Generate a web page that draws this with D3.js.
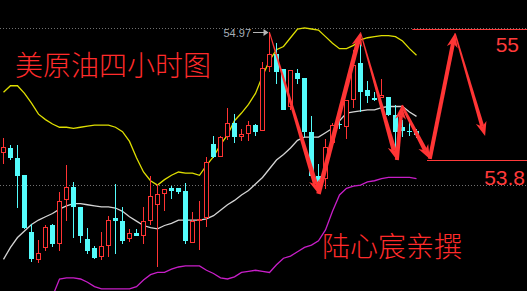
<!DOCTYPE html>
<html lang="zh">
<head>
<meta charset="UTF-8">
<title>美原油四小时图</title>
<script src="https://d3js.org/d3.v7.min.js"></script>
<style>
    html, body { margin: 0; padding: 0; background: #000; }
    svg { display: block; background: #000; }
    .cn { font-family: "Noto Sans CJK SC", sans-serif; fill: #ff2b2b; font-size: 28px; font-weight: 300; }
    .num { font-family: "Liberation Sans", Arial, sans-serif; }
</style>
</head>
<body>
<svg id="chart" width="527" height="291"></svg>
<script>
    // 4-hour candles (price)
    var open  = [53.86,53.91,53.82,53.66,53.14,52.88,52.99,53.20,53.03,53.43,
                 53.55,53.37,53.08,52.99,52.91,53.01,53.27,53.24,53.08,53.13,
                 53.10,53.24,53.39,53.49,53.54,53.54,53.52,53.04,53.24,53.27,
                 53.95,53.83,54.01,54.14,54.01,54.04,54.12,54.07,54.65,54.77,
                 54.63,54.29,54.60,54.55,54.06,53.65,53.63,53.96,54.13,54.10,
                 54.35,54.69,54.44,54.37,54.37,54.38,54.21,54.10,54.07,54.07];
    var high  = [54.00,53.94,53.94,53.66,53.21,53.07,53.20,53.21,53.51,53.75,
                 53.60,53.37,53.18,53.01,53.14,53.29,53.58,53.37,53.17,53.17,
                 53.37,53.65,53.58,53.53,53.56,53.54,53.59,53.32,53.42,53.83,
                 54.02,54.02,54.28,54.22,54.08,54.16,54.13,54.70,54.97,54.87,
                 54.63,54.62,54.63,54.55,54.20,53.76,53.99,54.14,54.17,54.35,
                 54.81,54.95,54.52,54.42,54.54,54.38,54.30,54.17,54.16,54.08];
    var low   = [53.76,53.80,53.36,53.17,52.87,52.86,52.97,53.00,52.97,53.24,
                 53.09,53.04,52.94,52.89,52.88,52.91,52.94,53.03,53.05,53.10,
                 53.03,53.20,52.82,53.33,53.44,53.49,53.03,53.04,52.98,53.19,
                 53.82,53.83,53.98,53.96,53.97,53.97,54.02,54.07,54.61,54.50,
                 54.26,54.26,54.50,54.01,53.65,53.53,53.53,53.96,54.08,53.99,
                 54.28,54.24,54.32,54.34,54.37,54.20,53.86,54.01,54.02,54.00];
    var close = [53.92,53.82,53.65,53.18,52.89,52.95,53.19,53.03,53.42,53.55,
                 53.37,53.10,52.97,52.90,53.01,53.25,53.24,53.06,53.13,53.10,
                 53.24,53.47,53.49,53.53,53.52,53.51,53.06,53.24,53.26,53.78,
                 53.83,54.01,54.14,54.01,54.04,54.12,54.06,54.64,54.77,54.61,
                 54.26,54.62,54.54,54.06,53.65,53.60,53.92,54.12,54.12,54.35,
                 54.67,54.42,54.39,54.35,54.40,54.21,54.06,54.07,54.06,54.03];

    // Bollinger bands
    var upper = [54.42,54.48,54.48,54.41,54.32,54.22,54.17,54.13,54.10,54.10,
                 54.09,54.10,54.11,54.12,54.12,54.12,54.10,54.06,53.97,53.82,
                 53.69,53.61,53.57,53.62,53.66,53.69,53.68,53.68,53.66,53.75,
                 53.83,53.94,54.03,54.16,54.23,54.31,54.41,54.57,54.71,54.81,
                 54.84,54.92,55.00,55.01,55.00,54.99,54.93,54.87,54.82,54.82,
                 54.85,54.90,54.92,54.93,54.94,54.94,54.93,54.89,54.82,54.76];
    var mid   = [52.89,53.00,53.09,53.15,53.21,53.25,53.28,53.31,53.35,53.38,
                 53.40,53.40,53.39,53.38,53.37,53.37,53.36,53.33,53.28,53.24,
                 53.20,53.18,53.17,53.20,53.22,53.25,53.25,53.25,53.25,53.26,
                 53.29,53.34,53.39,53.43,53.48,53.52,53.58,53.64,53.72,53.80,
                 53.85,53.91,53.98,54.01,54.01,54.01,54.05,54.09,54.16,54.23,
                 54.24,54.25,54.26,54.26,54.28,54.29,54.29,54.29,54.24,54.20];
    var lower = [null,null,null,null,null,null,null,52.55,52.71,52.72,
                 52.72,52.71,52.68,52.64,52.62,52.62,52.62,52.62,52.62,52.64,
                 52.70,52.75,52.77,52.77,52.80,52.82,52.83,52.83,52.83,52.79,
                 52.76,52.72,52.71,52.73,52.77,52.78,52.79,52.78,52.77,52.84,
                 52.90,52.92,52.96,53.00,53.02,53.06,53.16,53.33,53.48,53.54,
                 53.56,53.57,53.60,53.61,53.63,53.64,53.64,53.64,53.64,53.63];

    // hand-drawn forecast path: [candle index, price]
    var arrowPath   = [[38,54.97],[45,53.49],[51,54.97],[56.2,53.80],[56.9,54.30],
                       [60.9,53.81],[64.5,54.96],[68.8,54.02]];
    var arrowWidths = [[1,5],[4.5,4.5],[1,5],[4,4],[2.5,4.5],[4,4],[1.5,4]];

    // target levels (price, starting candle index)
    var levelPrices = [55, 53.8];
    var levelLabels = ["55", "53.8"];
    var levelFrom   = [58.4, 60.5];

    var gridPrices = [55.01, 53.57];

    var title  = "美原油四小时图";
    var author = "陆心宸亲撰";

    var W = 527, H = 291;
    var svg = d3.select("#chart");

    var x = d3.scaleLinear().domain([0, 59]).range([3.5, 416.5]);
    var y = d3.scaleLinear().domain([53.8, 55]).range([160, 29]);

    // dotted grid lines
    svg.selectAll(".grid").data(gridPrices).enter().append("line")
        .attr("x1", 0).attr("x2", W)
        .attr("y1", function(d) { return Math.round(y(d)) + 0.5; })
        .attr("y2", function(d) { return Math.round(y(d)) + 0.5; })
        .attr("stroke", "#707070")
        .attr("stroke-dasharray", "1,2");

    // bands
    function band(values, color) {
        var line = d3.line()
            .defined(function(d) { return d != null; })
            .x(function(d, i) { return x(i); })
            .y(function(d) { return y(d); });
        svg.append("path").datum(values)
            .attr("d", line)
            .attr("fill", "none")
            .attr("stroke", color)
            .attr("stroke-width", 1.3);
    }
    band(upper, "#dede00");
    band(mid, "#d4d4d4");
    band(lower, "#c81ec8");

    // candles
    var RED = "#ff3333", CYAN = "#54fcfc";
    var candles = svg.append("g");
    open.forEach(function(o, i) {
        var c = close[i], up = c >= o;
        var xc = x(i);
        var top = Math.round(y(Math.max(o, c)));
        var bot = Math.round(y(Math.min(o, c)));
        if (bot - top < 1) bot = top + 1;
        var col = up ? RED : CYAN;
        var yh = Math.round(y(high[i])), yl = Math.round(y(low[i]));
        if (yh < top) {
            candles.append("line").attr("x1", xc).attr("x2", xc)
                .attr("y1", yh).attr("y2", top).attr("stroke", col);
        }
        if (yl > bot) {
            candles.append("line").attr("x1", xc).attr("x2", xc)
                .attr("y1", bot).attr("y2", yl).attr("stroke", col);
        }
        if (up) {
            candles.append("rect")
                .attr("x", xc - 2).attr("y", top + 0.5)
                .attr("width", 4).attr("height", Math.max(bot - top - 1, 0.5))
                .attr("fill", "#000").attr("stroke", col);
        } else {
            candles.append("rect")
                .attr("x", xc - 2.5).attr("y", top)
                .attr("width", 5).attr("height", bot - top)
                .attr("fill", col);
        }
    });

    // highest price marker
    var hi = d3.maxIndex(high);
    var hy = Math.round(y(high[hi])) + 0.5;
    svg.append("line")
        .attr("x1", x(hi) - 16.5).attr("x2", x(hi) - 4)
        .attr("y1", hy).attr("y2", hy)
        .attr("stroke", "#b4b4b4");
    svg.append("path")
        .attr("d", "M" + (x(hi) - 1) + "," + hy + "l-5,-3.5l0,7z")
        .attr("fill", "#b4b4b4");
    svg.append("text").attr("class", "num")
        .attr("x", x(hi) - 18.5).attr("y", hy + 4.5)
        .attr("text-anchor", "end")
        .attr("font-size", 11)
        .attr("fill", "#a6aeb6")
        .text(high[hi].toFixed(2));

    // target levels
    levelPrices.forEach(function(p, i) {
        var ly = Math.round(y(p)) + 0.5;
        svg.append("line")
            .attr("x1", x(levelFrom[i])).attr("x2", W)
            .attr("y1", ly).attr("y2", ly)
            .attr("stroke", "#ff3a3a");
    });
    svg.append("text").attr("class", "num")
        .attr("x", 519).attr("y", y(levelPrices[0]) + 23)
        .attr("text-anchor", "end").attr("font-size", 21)
        .attr("fill", "#ff3a3a").text(levelLabels[0]);
    svg.append("text").attr("class", "num")
        .attr("x", 525).attr("y", y(levelPrices[1]) + 25)
        .attr("text-anchor", "end").attr("font-size", 21)
        .attr("fill", "#ff3a3a").text(levelLabels[1]);

    // forecast arrows
    function arrowShape(p0, p1, w0, w1, headL, headW) {
        var dx = p1[0] - p0[0], dy = p1[1] - p0[1], len = Math.hypot(dx, dy);
        var ux = dx / len, uy = dy / len, nx = -uy, ny = ux;
        var back = [p1[0] - ux * headL, p1[1] - uy * headL];
        var notch = [p1[0] - ux * headL * 0.7, p1[1] - uy * headL * 0.7];
        var shaft = [
            [p0[0] + nx * w0 / 2, p0[1] + ny * w0 / 2],
            [notch[0] + nx * w1 / 2, notch[1] + ny * w1 / 2],
            [notch[0] - nx * w1 / 2, notch[1] - ny * w1 / 2],
            [p0[0] - nx * w0 / 2, p0[1] - ny * w0 / 2]
        ];
        var head = [p1,
            [back[0] + nx * headW / 2, back[1] + ny * headW / 2],
            notch,
            [back[0] - nx * headW / 2, back[1] - ny * headW / 2]];
        return [shaft, head];
    }
    var arrows = svg.append("g").attr("fill", "#ff3535");
    for (var k = 0; k < arrowPath.length - 1; k++) {
        var a = [x(arrowPath[k][0]), y(arrowPath[k][1])];
        var b = [x(arrowPath[k + 1][0]), y(arrowPath[k + 1][1])];
        arrowShape(a, b, arrowWidths[k][0], arrowWidths[k][1], 14, 11).forEach(function(pts) {
            arrows.append("path").attr("d", "M" + pts.join("L") + "Z");
        });
    }

    // captions
    svg.append("text").attr("class", "cn")
        .attr("x", 15).attr("y", 76).text(title);
    svg.append("text").attr("class", "cn")
        .attr("x", 322).attr("y", 257).text(author);
</script>
</body>
</html>
